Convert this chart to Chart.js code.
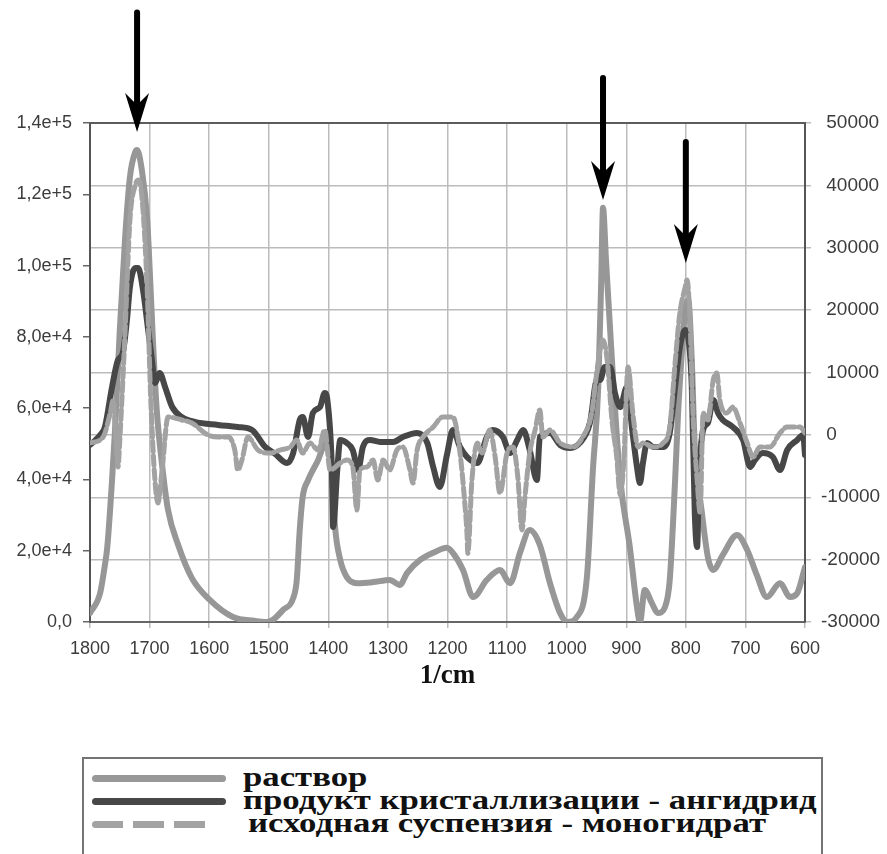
<!DOCTYPE html>
<html lang="ru">
<head>
  <meta charset="UTF-8" />
  <title>ИК-спектры: раствор, ангидрид, моногидрат</title>
  <script src="https://cdn.jsdelivr.net/npm/chart.js"></script>
  <style>
    html, body { margin: 0; padding: 0; background: #fff; }
    #wrap { position: relative; width: 887px; height: 854px; overflow: hidden; }
    #spectra { position: absolute; left: 0; top: 0; }
    #legend { position: absolute; left: 82px; top: 757px; width: 741px; height: 130px;
              border: 2px solid #747474; box-sizing: border-box; }
    .swatch { position: absolute; left: 92px; height: 7px; border-radius: 4px; }
    .caption { position: absolute; white-space: nowrap; line-height: 1;
               font-family: "Liberation Serif", "DejaVu Serif", serif;
               font-weight: 700; font-size: 27px; color: #111;
               transform-origin: left center; }
  </style>
</head>
<body>
<div id="wrap">
  <canvas id="spectra" width="887" height="720"></canvas>
  <div id="legend"></div>
  <div class="swatch" style="top:775px;width:134px;background:#989898"></div>
  <div class="swatch" style="top:798px;width:134px;background:#474747"></div>
  <div class="swatch" style="top:821px;width:116px;background:repeating-linear-gradient(90deg,#a2a2a2 0 31px,transparent 31px 41px)"></div>
  <span class="caption" id="cap0" style="left:243px;top:764px">раствор</span>
  <span class="caption" id="cap1" style="left:243px;top:787px">продукт кристаллизации - ангидрид</span>
  <span class="caption" id="cap2" style="left:248px;top:810px">исходная суспензия - моногидрат</span>
</div>

<script>
  // раствор (левая ось)
  const rastvorWn = [1800,1783,1775,1771,1763,1758,1755,1750,1741,1733,1724,1721,1713,1704,1699,1694,1688,1679,1669,1652,
    1629,1599,1560,1523,1503,1493,1476,1459,1453,1448,1443,1434,1426,1417,1409,1401,1394,1389,1380,1369,
    1352,1325,1297,1280,1268,1246,1224,1201,1191,1174,1157,1134,1112,1095,1078,1062,1045,1028,1011,999,
    983,966,956,947,942,939,934,927,922,910,894,882,877,869,857,847,835,827,818,813,
    806,801,796,790,785,773,763,754,738,714,697,681,664,642,625,613,600];
  const rastvorVal = [2500,8100,16000,21000,39800,53900,64200,81900,108000,124800,131900,132400,126800,112800,96000,77700,59500,44000,31400,21600,
    12300,6200,1400,300,0,600,3400,6700,11800,25800,35100,39800,42600,45500,49100,52500,42600,27200,17400,12600,
    10900,11200,11800,10400,13700,17400,19400,20800,19400,14600,7000,11800,14600,10900,19600,25800,21600,10900,2500,0,
    1400,12600,42600,65900,96000,116200,101600,81900,67900,39800,21000,4200,0,9000,5300,2500,4200,11800,39800,58600,
    77200,87500,90300,73500,49100,30600,18200,14600,18800,24400,20200,13200,7000,10900,7000,8100,15400];

  // продукт кристаллизации - ангидрид (правая ось)
  const productWn = [1800,1780,1775,1763,1753,1745,1738,1733,1724,1719,1711,1703,1696,1691,1683,1674,1662,1646,1624,1585,
    1552,1528,1506,1490,1469,1459,1448,1443,1434,1426,1414,1406,1401,1394,1392,1385,1380,1369,1359,1350,
    1342,1330,1313,1291,1275,1251,1234,1224,1213,1201,1191,1179,1167,1150,1134,1124,1107,1095,1083,1073,
    1062,1050,1045,1028,1011,994,978,961,949,944,936,927,919,910,899,890,882,877,872,865,
    855,838,827,818,810,801,796,790,785,781,778,771,763,754,746,738,721,704,692,684,
    671,654,642,630,613,603,600];
  const productVal = [-1620,300,1260,7680,12000,13130,18420,23710,26750,26750,23230,17290,12000,8320,9920,7680,4470,2870,2070,1590,
    1260,780,-1940,-3000,-4510,-2910,2385,2870,-340,3510,4470,6710,5110,-5630,-14770,-5630,-820,-1300,-2430,-5630,
    -1940,-820,-1140,-1140,-340,300,-1300,-5150,-8360,-3230,780,-1940,-3550,-4510,-340,780,-340,-2910,-820,780,
    -2430,-7230,-340,300,-1620,-2100,-1300,1900,8800,8800,10880,10880,6710,4470,7680,780,-5150,-7720,-4510,-1300,
    -1940,-1940,300,7680,14090,16810,15690,7680,-12530,-17980,-7230,780,1900,5590,3510,2385,1260,-820,-5150,-4030,
    -2910,-3550,-5630,-2430,-820,-20,-3230];

  // исходная суспензия - моногидрат (правая ось)
  const suspWn = [1800,1778,1766,1761,1756,1753,1750,1741,1733,1724,1718,1711,1704,1698,1691,1686,1679,1669,1646,1629,
    1602,1585,1568,1557,1552,1545,1535,1518,1498,1481,1464,1453,1443,1431,1417,1406,1397,1380,1369,1359,
    1352,1347,1335,1325,1317,1308,1297,1285,1275,1263,1258,1251,1241,1224,1208,1191,1179,1171,1167,1166,
    1159,1150,1142,1129,1120,1112,1100,1090,1082,1075,1070,1062,1053,1045,1040,1028,1011,989,973,958,
    949,944,939,932,924,916,910,904,897,889,880,872,855,838,827,818,810,801,798,793,
    788,781,776,771,763,754,748,743,731,721,709,697,687,676,659,642,630,620,608,600];
  const suspVal = [-1300,-340,3510,5590,-1620,-5150,-820,16810,34450,40060,40860,36050,23230,5590,-7230,-10920,-5630,2870,2385,1900,
    -20,-340,-340,-2430,-5630,-4030,-340,-2430,-2910,-2430,-1940,-820,-2910,-1300,-2430,780,-5630,-4510,-4030,-5150,
    -12040,-5630,-5150,-4030,-7230,-4030,-5630,-2430,-1940,-5630,-7720,-2430,-340,1260,2870,2870,-2910,-10920,-16370,-19000,
    -7230,-1300,-2910,780,-3550,-9320,-2910,-1940,-6750,-15250,-9960,-2910,780,3990,-340,780,-1300,-1940,-340,3510,
    10400,13610,15210,12000,2385,-3550,-9640,-4030,10880,3510,-1940,-1300,-1940,-1300,1260,11520,19540,23710,24830,18420,
    3510,-7230,-12530,3510,2385,8800,9920,5590,3510,4470,1900,-1300,-3550,-1940,-1940,300,1260,1260,1260,300];

  // стрелки над характерными пиками (в единицах левой оси)
  const arrowWn = [1721, 939, 800];
  const arrowFrom = [171000, 152600, 134700];
  const arrowTo = [137500, 118400, 100700];

  const toPoints = (wn, val) => wn.map((w, i) => ({ x: w, y: val[i] }));

  // 1,4e+5 style labels
  function sciLabel(v) {
    if (v === 0) return '0,0';
    const e = Math.floor(Math.log10(v) + 1e-9);
    const m = v / Math.pow(10, e);
    return m.toFixed(1).replace('.', ',') + 'e+' + e;
  }

  const tickFont = { family: 'Liberation Sans, Arial, sans-serif', size: 18 };
  const gridGrey = '#bcbcbc';

  const framePlugin = {
    id: 'frameTop',
    beforeDatasetsDraw(chart) {
      const { ctx, chartArea } = chart;
      ctx.save();
      ctx.strokeStyle = '#5c5c5c';
      ctx.lineWidth = 2;
      ctx.beginPath();
      ctx.moveTo(chartArea.left, chartArea.top);
      ctx.lineTo(chartArea.right, chartArea.top);
      ctx.stroke();
      ctx.restore();
    }
  };

  const arrowPlugin = {
    id: 'peakArrows',
    afterDraw(chart) {
      const { ctx, scales } = chart;
      ctx.save();
      ctx.fillStyle = '#000';
      ctx.strokeStyle = '#000';
      arrowWn.forEach((wn, i) => {
        const px = scales.x.getPixelForValue(wn);
        const top = scales.yL.getPixelForValue(arrowFrom[i]);
        const tip = scales.yL.getPixelForValue(arrowTo[i]);
        ctx.lineWidth = 6;
        ctx.lineCap = 'round';
        ctx.beginPath();
        ctx.moveTo(px, top);
        ctx.lineTo(px, tip - 28);
        ctx.stroke();
        ctx.beginPath();
        ctx.moveTo(px, tip);
        ctx.lineTo(px - 12, tip - 39);
        ctx.lineTo(px, tip - 27);
        ctx.lineTo(px + 12, tip - 39);
        ctx.closePath();
        ctx.fill();
      });
      ctx.restore();
    }
  };

  new Chart(document.getElementById('spectra'), {
    type: 'line',
    data: {
      datasets: [
        {
          label: 'раствор',
          data: toPoints(rastvorWn, rastvorVal),
          yAxisID: 'yL',
          borderColor: '#979797',
          borderWidth: 6,
          order: 2
        },
        {
          label: 'продукт кристаллизации - ангидрид',
          data: toPoints(productWn, productVal),
          yAxisID: 'yR',
          borderColor: '#474747',
          borderWidth: 6,
          order: 1
        },
        {
          label: 'исходная суспензия - моногидрат',
          data: toPoints(suspWn, suspVal),
          yAxisID: 'yR',
          borderColor: '#a2a2a2',
          borderWidth: 5,
          borderDash: [10, 4],
          order: 0
        }
      ]
    },
    options: {
      responsive: false,
      animation: false,
      devicePixelRatio: 1,
      layout: { padding: { top: 123, left: 0, right: 0, bottom: 0 } },
      elements: {
        point: { radius: 0 },
        line: { cubicInterpolationMode: 'monotone', borderCapStyle: 'round', borderJoinStyle: 'round', fill: false }
      },
      plugins: { legend: { display: false }, tooltip: { enabled: false } },
      scales: {
        x: {
          type: 'linear',
          position: 'bottom',
          reverse: true,
          min: 600,
          max: 1800,
          afterFit: s => { s.height = 98; },
          ticks: { stepSize: 100, font: tickFont, color: '#3c3c3c', padding: 10, maxRotation: 0, autoSkip: false,
                   callback: v => String(v) },
          grid: { color: gridGrey, lineWidth: 1.5, tickLength: 6 },
          border: { color: '#666', width: 2 },
          title: {
            display: true,
            text: '1/cm',
            color: '#111',
            font: { family: 'Liberation Serif, DejaVu Serif, serif', size: 27, weight: 'bold' },
            padding: { top: 0, bottom: 28 }
          }
        },
        yL: {
          position: 'left',
          min: 0,
          max: 140000,
          afterFit: s => { s.width = 90; },
          ticks: { stepSize: 20000, font: tickFont, color: '#3c3c3c', padding: 11, callback: v => sciLabel(v) },
          grid: { drawOnChartArea: false, color: '#666', tickLength: 7, lineWidth: 1.5 },
          border: { color: '#555', width: 2 }
        },
        yR: {
          position: 'right',
          min: -30000,
          max: 50000,
          afterFit: s => { s.width = 82; },
          ticks: { stepSize: 10000, font: { family: tickFont.family, size: 19 }, color: '#3c3c3c', padding: 10,
                   callback: v => (v < 0 ? String(v) : ' ' + v) },
          grid: { color: gridGrey, lineWidth: 1.5, tickLength: 6 },
          border: { color: '#555', width: 2 }
        }
      }
    },
    plugins: [framePlugin, arrowPlugin]
  });

  // legend captions are set wide, stretched to the box width
  const wide = document.getElementById('cap1');
  const stretch = (817 - 243) / wide.offsetWidth;
  ['cap0', 'cap1', 'cap2'].forEach(id => {
    document.getElementById(id).style.transform = 'scaleX(' + stretch.toFixed(3) + ')';
  });
</script>
</body>
</html>
